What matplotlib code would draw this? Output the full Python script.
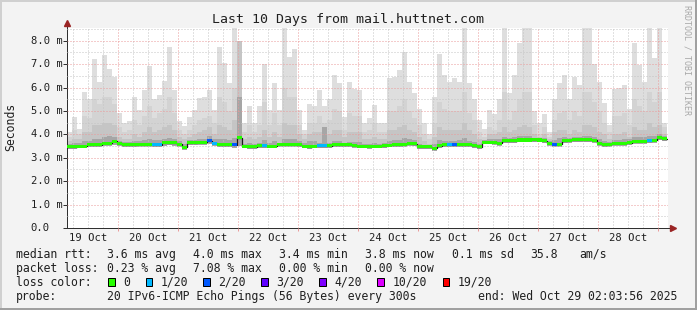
#!/usr/bin/env python
"""
SmokePing-style latency chart: last 10 days from mail.huttnet.com.

Smoke layers are drawn as stacked bars (min..max, then narrower inner
percentile bands), the median as a thick band coloured by packet loss.
Time axis is in hours relative to 20 Oct 00:00; one bin = 2 h.
"""
import matplotlib

matplotlib.use("Agg")
import matplotlib.pyplot as plt
import numpy as np
from matplotlib.lines import Line2D
from matplotlib.patches import Rectangle
from matplotlib.transforms import blended_transform_factory

W, H = 697, 310
MONO = "DejaVu Sans Mono"

# --- data (ms), one value per 2 h bin, first bin starts 20.5 h before 20 Oct 00:00
bin_start = -20.5
bin_hours = 2.0

rtt_max = [
    4.1, 4.75, 4.25, 5.8, 5.5, 7.2, 6.25, 7.4, 6.8, 6.45,
    4.9, 4.5, 4.55, 5.6, 5.05, 5.9, 6.9, 5.5, 5.7, 6.3,
    7.75, 5.9, 4.55, 4.35, 4.75, 5.05, 5.55, 5.6, 5.9, 5.05,
    7.75, 7.05, 6.2, 9.5, 6.0, 4.5, 5.2, 4.5, 5.2, 7.0,
    5.05, 6.2, 5.05, 9.5, 7.3, 7.65, 5.05, 4.2, 5.3, 5.2,
    5.9, 5.2, 5.5, 6.55, 6.2, 4.75, 6.25, 5.95, 5.9, 4.5,
    4.7, 5.25, 4.5, 4.5, 6.4, 6.45, 6.75, 7.5, 6.25, 5.75,
    5.1, 4.5, 4.0, 5.6, 7.45, 6.55, 6.25, 6.4, 6.25, 9.5,
    6.2, 5.5, 4.6, 4.25, 5.05, 4.85, 5.5, 9.5, 5.75, 6.55,
    7.9, 9.5, 9.5, 5.0, 4.5, 4.85, 4.1, 5.5, 6.2, 6.55,
    5.5, 6.45, 6.1, 9.5, 9.5, 7.0, 6.25, 5.35, 4.4, 5.95,
    6.0, 6.1, 5.1, 7.9, 6.95, 6.25, 9.5, 7.25, 9.5, 4.5,
]
rtt_upper = [
    3.9, 4.2, 4.0, 4.8, 4.7, 5.5, 5.3, 5.6, 5.6, 5.3,
    4.3, 4.1, 4.2, 4.6, 4.4, 4.8, 5.2, 4.7, 4.9, 5.1,
    5.6, 4.9, 4.2, 4.0, 4.2, 4.4, 4.6, 4.7, 4.8, 4.5,
    5.6, 5.4, 5.0, 6.0, 5.2, 4.1, 4.4, 4.1, 4.4, 5.4,
    4.4, 4.9, 4.4, 6.0, 5.6, 5.6, 4.4, 4.0, 4.5, 4.5,
    4.8, 4.5, 4.6, 5.1, 5.0, 4.2, 4.9, 4.8, 4.8, 4.1,
    4.2, 4.5, 4.1, 4.1, 5.0, 5.0, 5.2, 5.5, 5.0, 4.7,
    4.4, 4.0, 3.8, 4.5, 5.4, 5.1, 5.0, 5.0, 5.0, 5.8,
    4.9, 4.6, 4.1, 3.9, 4.3, 4.2, 4.6, 5.8, 4.6, 5.0,
    5.5, 5.8, 5.8, 4.4, 4.0, 4.3, 3.9, 4.6, 4.9, 5.0,
    4.6, 5.0, 4.8, 5.8, 5.8, 5.4, 5.0, 4.5, 4.1, 4.8,
    4.8, 4.9, 4.4, 5.5, 5.2, 5.0, 5.8, 5.4, 5.8, 4.3,
]
rtt_mid = [
    3.7, 3.8, 3.8, 4.1, 4.1, 4.4, 4.4, 4.5, 4.5, 4.4,
    3.9, 3.8, 3.8, 4.0, 3.9, 4.1, 4.3, 4.1, 4.2, 4.3,
    4.4, 4.2, 3.9, 3.8, 3.9, 4.0, 4.1, 4.2, 4.3, 4.0,
    4.4, 4.3, 4.2, 4.6, 8.0, 3.8, 3.9, 3.8, 3.9, 4.2,
    3.9, 4.1, 3.9, 4.5, 4.4, 4.4, 4.0, 3.8, 4.0, 4.1,
    4.1, 4.1, 4.0, 4.2, 4.2, 3.9, 4.1, 4.1, 4.1, 3.8,
    3.8, 3.9, 3.8, 3.8, 4.2, 4.2, 4.3, 4.4, 4.2, 4.1,
    3.9, 3.7, 3.6, 3.9, 4.3, 4.2, 4.2, 4.2, 4.2, 4.5,
    4.2, 4.0, 3.8, 3.7, 4.0, 4.0, 4.1, 4.3, 4.1, 4.2,
    4.3, 4.4, 4.3, 4.0, 3.9, 4.0, 3.8, 4.1, 4.2, 4.2,
    4.0, 4.2, 4.1, 4.4, 4.4, 4.3, 4.1, 4.0, 3.8, 4.0,
    4.0, 4.1, 3.9, 4.3, 4.2, 4.2, 4.5, 4.3, 4.4, 4.0,
]
rtt_inner = [
    3.6, 3.62, 3.62, 3.7, 3.72, 3.8, 3.8, 3.9, 3.95, 3.9,
    3.72, 3.66, 3.66, 3.7, 3.7, 3.75, 3.8, 3.75, 3.75, 3.82,
    3.85, 3.8, 3.7, 3.6, 3.78, 3.78, 3.8, 3.82, 3.95, 3.8,
    3.8, 3.8, 3.75, 3.85, 5.6, 3.6, 3.62, 3.6, 3.62, 3.75,
    3.62, 3.7, 3.65, 3.8, 3.8, 3.8, 3.7, 3.65, 3.7, 3.72,
    3.65, 4.3, 3.65, 3.7, 3.7, 3.63, 3.68, 3.68, 3.66, 3.6,
    3.6, 3.62, 3.6, 3.62, 3.72, 3.75, 3.78, 3.85, 3.8, 3.75,
    3.6, 3.56, 3.5, 3.6, 3.75, 3.72, 3.72, 3.72, 3.75, 3.85,
    3.72, 3.68, 3.6, 3.78, 3.8, 3.8, 3.82, 3.9, 3.85, 3.9,
    3.92, 3.95, 3.95, 3.85, 3.82, 3.85, 3.72, 3.75, 3.85, 3.88,
    3.85, 3.9, 3.88, 3.95, 3.95, 3.9, 3.8, 3.72, 3.68, 3.75,
    3.75, 3.8, 3.8, 3.88, 3.88, 3.88, 3.95, 3.92, 4.0, 3.95,
]
rtt_median = [
    3.48, 3.48, 3.50, 3.50, 3.55, 3.55, 3.55, 3.62, 3.62, 3.70,
    3.62, 3.55, 3.55, 3.55, 3.57, 3.57, 3.57, 3.56, 3.56, 3.65,
    3.65, 3.65, 3.58, 3.45, 3.65, 3.65, 3.66, 3.66, 3.72, 3.62,
    3.55, 3.55, 3.55, 3.55, 3.85, 3.50, 3.48, 3.48, 3.52, 3.52,
    3.50, 3.50, 3.57, 3.58, 3.58, 3.58, 3.55, 3.50, 3.48, 3.50,
    3.52, 3.52, 3.52, 3.55, 3.55, 3.55, 3.55, 3.53, 3.50, 3.50,
    3.49, 3.50, 3.50, 3.52, 3.54, 3.55, 3.55, 3.58, 3.62, 3.60,
    3.48, 3.47, 3.47, 3.40, 3.52, 3.55, 3.55, 3.55, 3.55, 3.55,
    3.55, 3.52, 3.47, 3.66, 3.66, 3.66, 3.62, 3.72, 3.72, 3.72,
    3.76, 3.76, 3.76, 3.77, 3.76, 3.72, 3.62, 3.58, 3.58, 3.73,
    3.75, 3.77, 3.77, 3.77, 3.77, 3.75, 3.62, 3.55, 3.58, 3.62,
    3.62, 3.62, 3.65, 3.70, 3.70, 3.70, 3.72, 3.75, 3.85, 3.82,
]
rtt_min = [
    3.38, 3.38, 3.40, 3.40, 3.44, 3.44, 3.45, 3.50, 3.50, 3.55,
    3.50, 3.44, 3.44, 3.45, 3.46, 3.46, 3.46, 3.45, 3.44, 3.52,
    3.53, 3.52, 3.46, 3.35, 3.53, 3.54, 3.55, 3.54, 3.58, 3.50,
    3.44, 3.44, 3.44, 3.42, 3.50, 3.40, 3.38, 3.38, 3.42, 3.42,
    3.40, 3.40, 3.46, 3.47, 3.47, 3.47, 3.45, 3.40, 3.38, 3.40,
    3.42, 3.42, 3.42, 3.45, 3.45, 3.45, 3.45, 3.43, 3.40, 3.40,
    3.39, 3.40, 3.40, 3.42, 3.44, 3.45, 3.45, 3.47, 3.50, 3.49,
    3.38, 3.37, 3.37, 3.30, 3.42, 3.45, 3.44, 3.45, 3.45, 3.45,
    3.45, 3.42, 3.37, 3.57, 3.57, 3.56, 3.52, 3.62, 3.62, 3.62,
    3.66, 3.66, 3.66, 3.67, 3.66, 3.62, 3.52, 3.48, 3.48, 3.63,
    3.65, 3.67, 3.67, 3.67, 3.67, 3.65, 3.52, 3.45, 3.48, 3.52,
    3.52, 3.52, 3.55, 3.60, 3.60, 3.60, 3.62, 3.65, 3.75, 3.72,
]
# bins with lost pings (index, pings lost out of 20)
loss_bins = [17, 18, 28, 29, 33, 39, 50, 51, 76, 77, 97, 116]
loss_counts = [1, 1, 2, 1, 2, 1, 1, 1, 1, 2, 2, 1]

loss_steps = [0, 1, 2, 3, 4, 10, 19]
loss_labels = ["0", "1/20", "2/20", "3/20", "4/20", "10/20", "19/20"]
loss_colors = ["#26ff00", "#00b8ff", "#0059ff", "#5e00ff", "#7e00ff", "#dd00ff", "#ff0000"]

day_labels = ["19 Oct", "20 Oct", "21 Oct", "22 Oct", "23 Oct",
              "24 Oct", "25 Oct", "26 Oct", "27 Oct", "28 Oct"]
y_ticks = [0, 1, 2, 3, 4, 5, 6, 7, 8]

stats_median = ["3.6 ms avg", "4.0 ms max", "3.4 ms min", "3.8 ms now", "0.1 ms sd", "35.8", "am/s"]
stats_loss = ["0.23 % avg", "7.08 % max", "0.00 % min", "0.00 % now"]
probe_text = "20 IPv6-ICMP Echo Pings (56 Bytes) every 300s"
end_text = "end: Wed Oct 29 02:03:56 2025"

SMOKE = ["#dedede", "#d3d3d3", "#c5c5c5", "#a6a6a6"]
GRID_MAJOR = "#eb9a9a"
GRID_MINOR = "#c4c4c4"
ARROW = "#9a2424"


def fx(px):
    return px / W


def fy(py):
    return 1 - py / H


def loss_color(count):
    col = loss_colors[0]
    for step, c in zip(loss_steps, loss_colors):
        if count >= step:
            col = c
    return col


def main():
    n = len(rtt_median)
    x = bin_start + bin_hours * np.arange(n)
    lo = np.array(rtt_min)

    fig = plt.figure(figsize=(W / 100, H / 100), dpi=100, facecolor="#f3f3f3")
    ax = fig.add_axes([fx(67), fy(228), fx(668) - fx(67), fy(28) - fy(228)])
    ax.set_facecolor("white")

    # smoke, outer to inner
    for z, (top, col) in enumerate(zip([rtt_max, rtt_upper, rtt_mid, rtt_inner], SMOKE)):
        ax.bar(x, np.array(top) - lo, bottom=lo, width=bin_hours, align="edge",
               color=col, linewidth=0, antialiased=False, zorder=1 + z * 0.1)

    # median: dark step line under a loss-coloured band
    med = np.array(rtt_median)
    ax.step(np.append(x, x[-1] + bin_hours), np.append(med, med[-1]), where="post",
            color="#1a1a1a", lw=0.9, zorder=2.8)
    loss = np.zeros(n, dtype=int)
    loss[loss_bins] = loss_counts
    ax.bar(x, 0.13, bottom=med - 0.065, width=bin_hours, align="edge",
           color=[loss_color(c) for c in loss], linewidth=0, antialiased=False, zorder=3)

    ax.set_xlim(-20.52, 219.88)
    ax.set_ylim(0, 200 / 23.41)
    ax.set_xticks(np.arange(0, 217, 24))
    ax.set_xticks(np.arange(-18, 220, 6), minor=True)
    ax.set_yticks(y_ticks)
    ax.set_yticks(np.arange(0.5, 8.6, 1.0), minor=True)
    ax.set_xticklabels([])
    ax.set_yticklabels([])
    ax.set_axisbelow(False)
    ax.grid(which="major", color=GRID_MAJOR, linestyle=(0, (1, 2)), linewidth=0.72)
    ax.grid(which="minor", color=GRID_MINOR, linestyle=(0, (1, 2)), linewidth=0.72)
    ax.tick_params(axis="x", which="major", length=2.2, width=0.72, color=GRID_MAJOR)
    ax.tick_params(axis="y", which="major", length=2.9, width=0.72, color="#303030")
    ax.tick_params(which="minor", length=0)
    for side in ("top", "right"):
        ax.spines[side].set_visible(False)
    for side in ("left", "bottom"):
        ax.spines[side].set_color("#303030")
        ax.spines[side].set_linewidth(0.72)

    # axis arrows
    ax.plot([0, 0], [1, 1.022], transform=ax.transAxes, color="#303030", lw=0.72, clip_on=False)
    ax.plot([1, 1.006], [0, 0], transform=ax.transAxes, color="#303030", lw=0.72, clip_on=False)
    ax.plot([0], [1.025], marker="^", ms=4, color=ARROW, transform=ax.transAxes, clip_on=False)
    ax.plot([1.009], [0], marker=">", ms=4, color=ARROW, transform=ax.transAxes, clip_on=False)

    # tick labels
    ytr = blended_transform_factory(fig.transFigure, ax.transData)
    for v in y_ticks:
        lab = f"{v:.1f} m" if v else "0.0"
        ax.text(fx(30.5), v, lab, transform=ytr, ha="left", va="center",
                family=MONO, fontsize=7.6, color="#202020")
    for i, lab in enumerate(day_labels):
        ax.text(-12 + 24 * i, -0.048, lab, transform=ax.get_xaxis_transform(),
                ha="center", va="center", family=MONO, fontsize=7.6, color="#202020")

    fig.text(fx(347.5), fy(19), "Last 10 Days from mail.huttnet.com", ha="center",
             va="center", family=MONO, fontsize=9.5, color="#202020")
    fig.text(fx(10.5), fy(127), "Seconds", rotation=90, ha="center", va="center",
             family=MONO, fontsize=8.3, color="#202020")
    fig.text(fx(687.5), fy(5), "RRDTOOL / TOBI OETIKER", rotation=270, ha="center",
             va="top", family=MONO, fontsize=6, color="#a8a8a8")

    # legend block
    kw = dict(family=MONO, fontsize=8.3, color="#202020", va="center", ha="left")
    fig.text(fx(16), fy(254.3), "median rtt:", **kw)
    for px, t in zip([107.3, 192.7, 279, 365, 451.7, 530, 579.3], stats_median):
        fig.text(fx(px), fy(254.3), t, **kw)
    fig.text(fx(16), fy(268.3), "packet loss:", **kw)
    for px, t in zip([107.3, 192.7, 279, 365], stats_loss):
        fig.text(fx(px), fy(268.3), t, **kw)
    fig.text(fx(16), fy(282.3), "loss color:", **kw)
    box_x = [108.3, 145.7, 203.3, 261.0, 319.3, 377.3, 442.7]
    for bx, lab, col in zip(box_x, loss_labels, loss_colors):
        fig.add_artist(Rectangle((fx(bx), fy(285.5)), 6.7 / W, 7.5 / H,
                                 transform=fig.transFigure, facecolor=col,
                                 edgecolor="#000000", linewidth=0.72))
        fig.text(fx(bx + 15), fy(282.3), lab, **kw)
    fig.text(fx(16), fy(296.3), "probe:", **kw)
    fig.text(fx(107.3), fy(296.3), probe_text, **kw)
    fig.text(fx(478.3), fy(296.3), end_text, **kw)

    # 3d-ish frame
    fig.add_artist(Line2D([0, 1], [fy(1), fy(1)], transform=fig.transFigure, color="#d0d0d0", lw=1.44))
    fig.add_artist(Line2D([fx(1), fx(1)], [0, 1], transform=fig.transFigure, color="#d0d0d0", lw=1.44))
    fig.add_artist(Line2D([0, 1], [fy(309), fy(309)], transform=fig.transFigure, color="#a0a0a0", lw=1.44))
    fig.add_artist(Line2D([fx(696), fx(696)], [0, 1], transform=fig.transFigure, color="#a0a0a0", lw=1.44))

    fig.savefig("out.png", dpi=100, facecolor=fig.get_facecolor())
    plt.close(fig)


if __name__ == "__main__":
    main()
